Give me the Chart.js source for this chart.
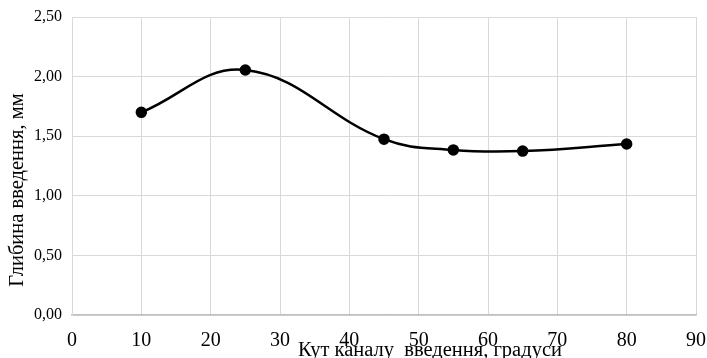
<!DOCTYPE html>
<html>
<head>
<meta charset="utf-8">
<script src="https://cdn.jsdelivr.net/npm/chart.js"></script>
<style>
  html, body { margin: 0; padding: 0; background: #fff; }
  #wrap { width: 707px; height: 358px; }
</style>
</head>
<body>
<div id="wrap"><canvas id="depthChart" width="707" height="358"></canvas></div>
<script>
// Кут каналу введення (градуси) та глибина введення (мм)
const angles = [10, 25, 45, 55, 65, 80];
const depths = [1.70, 2.055, 1.475, 1.385, 1.375, 1.435];
const xTicks = [0, 10, 20, 30, 40, 50, 60, 70, 80, 90];
const yTicks = [0, 0.5, 1.0, 1.5, 2.0, 2.5];

const xTitle = 'Кут каналу  введення, градуси';
const yTitle = 'Глибина введення, мм';

const points = angles.map((a, i) => ({ x: a, y: depths[i] }));

// axis titles sit off-centre in the original, so draw them by hand
const axisTitles = {
  id: 'axisTitles',
  afterDraw(chart) {
    const ctx = chart.ctx;
    ctx.save();
    ctx.fillStyle = '#000';
    ctx.font = '20.5px "Liberation Serif"';
    ctx.textAlign = 'center';
    ctx.textBaseline = 'middle';
    ctx.fillText(xTitle, 430, 351);
    ctx.translate(18, 190);
    ctx.rotate(-Math.PI / 2);
    ctx.fillText(yTitle, 0, 0);
    ctx.restore();
  }
};

new Chart(document.getElementById('depthChart'), {
  type: 'scatter',
  data: {
    datasets: [{
      data: points,
      showLine: true,
      borderColor: '#000',
      backgroundColor: '#000',
      borderWidth: 2.5,
      pointRadius: 4.5,
      pointHoverRadius: 4.5,
      tension: 0.4
    }]
  },
  plugins: [axisTitles],
  options: {
    responsive: false,
    animation: false,
    layout: { padding: { top: 17, right: 11, left: 0, bottom: 0 } },
    plugins: {
      legend: { display: false },
      tooltip: { enabled: false }
    },
    scales: {
      x: {
        type: 'linear',
        min: 0,
        max: 90,
        afterBuildTicks: function(scale) {
          scale.ticks = xTicks.map(v => ({ value: v }));
        },
        afterFit: function(scale) {
          scale.height = 43;
          scale.paddingLeft = 0;
          scale.paddingRight = 0;
        },
        grid: { color: '#d9d9d9', lineWidth: 1, drawTicks: false },
        border: { color: '#bfbfbf', width: 1.5 },
        ticks: {
          padding: 14,
          color: '#000',
          font: { family: 'Liberation Serif', size: 20 },
          maxRotation: 0
        }
      },
      y: {
        type: 'linear',
        min: 0,
        max: 2.5,
        afterBuildTicks: function(scale) {
          scale.ticks = yTicks.map(v => ({ value: v }));
        },
        afterFit: function(scale) {
          scale.width = 72;
          scale.paddingTop = 0;
          scale.paddingBottom = 0;
        },
        grid: { color: '#d9d9d9', lineWidth: 1, drawTicks: false },
        border: { color: '#d9d9d9', width: 1 },
        ticks: {
          padding: 10,
          color: '#000',
          font: { family: 'Liberation Serif', size: 16 },
          callback: function(value) {
            return value.toFixed(2).replace('.', ',');
          }
        }
      }
    }
  }
});
</script>
</body>
</html>
